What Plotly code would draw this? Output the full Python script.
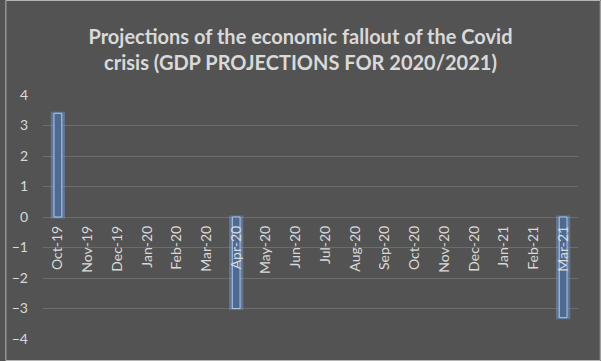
import plotly.graph_objects as go

months = ["Oct-19", "Nov-19", "Dec-19", "Jan-20", "Feb-20", "Mar-20", "Apr-20", "May-20",
          "Jun-20", "Jul-20", "Aug-20", "Sep-20", "Oct-20", "Nov-20", "Dec-20", "Jan-21",
          "Feb-21", "Mar-21"]
gdp = [3.4, None, None, None, None, None, -3.0, None, None, None, None, None, None, None,
       None, None, None, -3.3]
y_ticks = [-4, -3, -2, -1, 0, 1, 2, 3, 4]

title = ("Projections of the economic fallout of the Covid<br>"
         "crisis (GDP PROJECTIONS FOR 2020/2021)")

bg = "#535353"
txt = "#d9d9d9"

fig = go.Figure()
# glow
fig.add_trace(go.Bar(x=months, y=gdp, width=0.38,
                     marker=dict(color="rgba(110,150,215,0.2)",
                                 line=dict(color="rgba(120,165,230,0.4)", width=3)),
                     hoverinfo="skip", showlegend=False))
fig.add_trace(go.Bar(x=months, y=gdp, width=0.26,
                     marker=dict(color="#4f6a90",
                                 line=dict(color="#a9c6ee", width=1)),
                     showlegend=False))

fig.update_layout(
    width=601, height=361,
    paper_bgcolor=bg, plot_bgcolor=bg,
    margin=dict(l=38, r=23, t=95, b=22),
    barmode="overlay",
    font=dict(family="Lato", color=txt, size=12),
    title=dict(text=title, x=0.5, xanchor="center", y=0.878, yanchor="top",
               font=dict(family="Lato", size=20, color=txt, weight="bold")),
    xaxis=dict(type="category", anchor="free", position=0.5, tickangle=-90,
               showgrid=False, showline=False, ticks="", zeroline=False,
               ticklabelstandoff=5,
               tickfont=dict(size=14, color=txt)),
    yaxis=dict(range=[-4, 4], tickvals=y_ticks, showgrid=True, gridcolor="#6c6c6c",
               gridwidth=1, zeroline=True, zerolinecolor="#6c6c6c", zerolinewidth=1,
               ticks="", ticklabelstandoff=14, tickfont=dict(size=14, color=txt)),
    shapes=[dict(type="rect", xref="paper", yref="paper", x0=-37.5/540, x1=1+22.5/540,
                 y0=-21.5/244, y1=1+94.5/244, line=dict(color="#b5b5b5", width=1),
                 fillcolor="rgba(0,0,0,0)", layer="above")],
)

fig.write_html("out.html", config={"displayModeBar": False},
               post_script="document.body.style.margin='0px';")
